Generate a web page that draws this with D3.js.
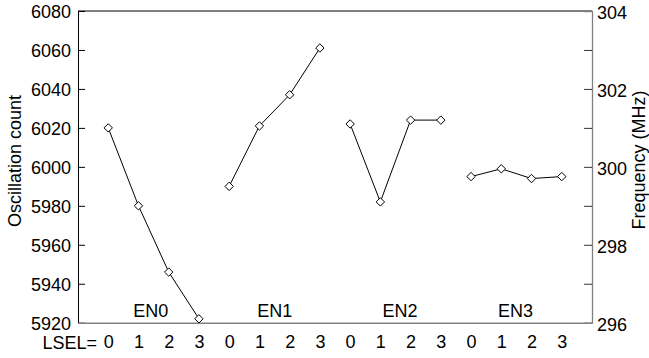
<!DOCTYPE html>
<html>
<head>
<meta charset="utf-8">
<script src="https://cdn.jsdelivr.net/npm/d3@7"></script>
<style>
  html, body { margin: 0; padding: 0; background: #fff; }
  svg { display: block; }
  text { font-family: "Liberation Sans", Arial, sans-serif; font-size: 18px; fill: #000; }
</style>
</head>
<body>
<svg id="chart" width="649" height="358"></svg>
<script>
// ---- data ----
const groups = ["EN0", "EN1", "EN2", "EN3"];
const lselLabels = ["0", "1", "2", "3"];
const countEN0 = [6020, 5980, 5946, 5922];
const countEN1 = [5990, 6021, 6037, 6061];
const countEN2 = [6022, 5982, 6024, 6024];
const countEN3 = [5995, 5999, 5994, 5995];
const leftTicks = [5920, 5940, 5960, 5980, 6000, 6020, 6040, 6060, 6080];
const rightMajorTicks = [296, 298, 300, 302, 304];
const rightMinorTicks = [297, 299, 301, 303];
const groupLabelPos = [1.41, 5.51, 9.65, 13.47];

const series = [countEN0, countEN1, countEN2, countEN3];

// ---- layout ----
const svg = d3.select("#chart");
const L = 78, R = 592, T = 11, B = 322.7;

const x = d3.scaleLinear().domain([-1, 16]).range([L, R]);
const yL = d3.scaleLinear().domain([5920, 6080]).range([B, T]);
const yR = d3.scaleLinear().domain([296, 304]).range([B, T]);

const FONT = "Liberation Sans, Arial, sans-serif";

// top border
svg.append("line").attr("x1", L).attr("x2", R).attr("y1", T).attr("y2", T)
  .attr("stroke", "#000").attr("stroke-width", 1);

// left axis (ticks inward)
const gL = svg.append("g").attr("transform", `translate(${L},0)`)
  .call(d3.axisLeft(yL).tickValues(leftTicks).tickSize(-7).tickPadding(7).tickFormat(d3.format("d")));
gL.select(".domain").attr("stroke", "#000");
gL.selectAll(".tick line").attr("stroke", "#000");
gL.selectAll(".tick").filter(d => d === 5920 || d === 6080).select("line").remove();
gL.selectAll("text").attr("font-size", 18).attr("font-family", FONT).attr("fill", "#000").attr("dy", "0.36em");

// right axis
const gR = svg.append("g").attr("transform", `translate(${R},0)`)
  .call(d3.axisRight(yR).tickValues(rightMajorTicks).tickSize(-8).tickPadding(5).tickFormat(d3.format("d")));
gR.select(".domain").attr("stroke", "#808080").attr("stroke-width", 1.3);
gR.selectAll(".tick line").attr("stroke", "#333");
gR.selectAll(".tick").filter(d => d === 296 || d === 304).select("line").remove();
gR.selectAll("text").attr("font-size", 18).attr("font-family", FONT).attr("fill", "#000").attr("dy", "0.42em");
const gRm = svg.append("g").attr("transform", `translate(${R},0)`)
  .call(d3.axisRight(yR).tickValues(rightMinorTicks).tickSize(-8).tickFormat(""));
gRm.select(".domain").remove();
gRm.selectAll(".tick line").attr("stroke", "#333");

// bottom axis
const idx = d3.range(16);
const gB = svg.append("g").attr("transform", `translate(0,${B})`)
  .call(d3.axisBottom(x).tickValues(idx).tickSize(0).tickPadding(13)
    .tickFormat(i => lselLabels[i % 4]));
gB.select(".domain").attr("stroke", "#808080").attr("stroke-width", 1.6);
gB.selectAll("text").attr("font-size", 18).attr("font-family", FONT).attr("fill", "#000");

svg.append("text").attr("x", 97).attr("y", 349).attr("text-anchor", "end").text("LSEL=");

// group labels
svg.selectAll("text.grp").data(groups).join("text").attr("class", "grp")
  .attr("x", (d, i) => x(groupLabelPos[i])).attr("y", 316.5)
  .attr("text-anchor", "middle").text(d => d);

// series lines & markers
const diamond = "M0,-4.2L4.2,0L0,4.2L-4.2,0Z";
const line = d3.line().x(d => x(d.i)).y(d => yL(d.v));
series.forEach((vals, g) => {
  const pts = vals.map((v, k) => ({ i: g * 4 + k, v }));
  svg.append("path").datum(pts).attr("d", line)
    .attr("fill", "none").attr("stroke", "#000").attr("stroke-width", 1);
  svg.selectAll(null).data(pts).join("path")
    .attr("d", diamond)
    .attr("transform", d => `translate(${x(d.i)},${yL(d.v)})`)
    .attr("fill", "#fff").attr("stroke", "#000").attr("stroke-width", 1);
});

// axis titles
svg.append("text").attr("transform", "translate(21,161) rotate(-90)")
  .attr("text-anchor", "middle").text("Oscillation count");
svg.append("text").attr("transform", "translate(645,160) rotate(-90)")
  .attr("text-anchor", "middle").text("Frequency (MHz)");
</script>
</body>
</html>
